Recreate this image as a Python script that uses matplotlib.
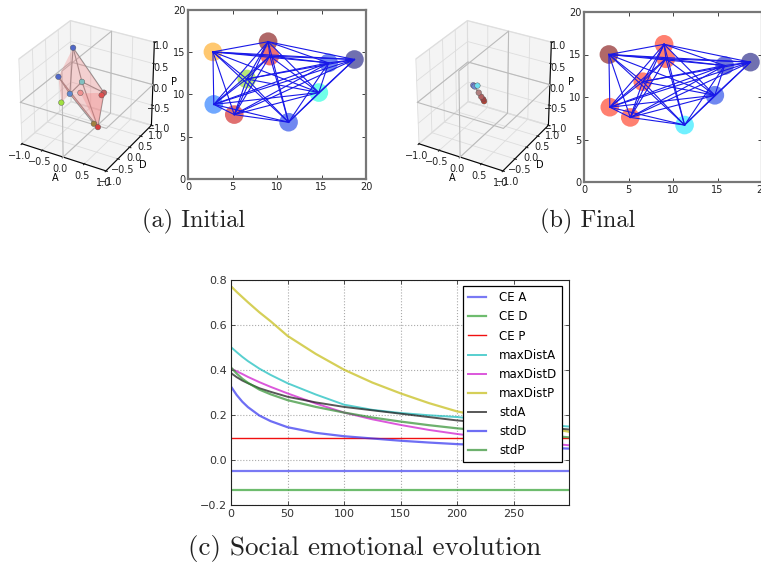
import matplotlib
matplotlib.use("Agg")
import matplotlib.pyplot as plt
from mpl_toolkits.mplot3d.art3d import Poly3DCollection

W, H = 761, 566

# network nodes
node_x = [2.8, 9.0, 9.2, 18.7, 15.8, 6.6, 14.7, 2.9, 5.2, 11.3]
node_y = [15.0, 16.2, 14.5, 14.1, 13.7, 11.8, 10.2, 8.8, 7.6, 6.7]
colors_a = ['#ffc870', '#b06868', '#f07070', '#7070b0', '#7088f0', '#b8e878', '#70ffe8', '#70a8ff', '#e07070', '#7088f0']
colors_b = ['#b06868', '#ff8070', '#ff8070', '#7070b0', '#7078d8', '#ff8070', '#7088f0', '#ff8070', '#ff8070', '#70f0ff']

# emotional states, initial
A_a = [-0.52, -0.89, -0.64, -0.55, -0.31, 0.22, 0.22, 0.36, 0.15, -0.29]
D_a = [0.3, 0.3, 0.0, 0.2, 0.3, 0.3, 0.2, -0.2, 0.0, 0.2]
P_a = [0.79, 0.0, -0.41, -0.27, 0.04, -0.07, -0.08, -0.6, -0.69, -0.17]
c3_a = ['#5068c8', '#5068c8', '#a0e040', '#6088d0', '#80c0c0', '#c06060', '#e05050', '#d84040', '#a08040', '#f09090']
faces_a = [(0, 1, 3), (0, 3, 9), (0, 5, 9), (1, 3, 7), (3, 7, 5), (5, 7, 9), (1, 2, 3)]
edges_a = [(0, 4), (4, 5), (5, 7), (1, 7), (0, 3), (3, 4), (3, 8), (1, 3), (4, 7), (0, 5)]

# emotional states, final
A_b = [-0.33, -0.23, -0.30, -0.20, -0.14, -0.07, -0.09]
D_b = [0.1, 0.1, 0.1, 0.1, 0.1, 0.1, 0.1]
P_b = [0.05, 0.07, 0.03, -0.09, -0.17, -0.26, -0.22]
c3_b = ['#7078d0', '#70e0f0', '#7088d0', '#b08080', '#b06060', '#c04030', '#a04040']

# evolution curves
t = [0, 5, 10, 15, 25, 35, 50, 75, 100, 125, 150, 175, 200, 225, 250, 275, 299]
ce_a = [-0.05] * len(t)
ce_d = [-0.135] * len(t)
ce_p = [0.095] * len(t)
max_a = [0.50, 0.478, 0.457, 0.438, 0.405, 0.377, 0.34, 0.29, 0.245, 0.222, 0.208, 0.198, 0.19, 0.178, 0.167, 0.157, 0.148]
max_d = [0.405, 0.393, 0.381, 0.368, 0.345, 0.324, 0.295, 0.25, 0.21, 0.18, 0.155, 0.133, 0.115, 0.10, 0.087, 0.075, 0.065]
max_p = [0.77, 0.745, 0.722, 0.699, 0.655, 0.615, 0.55, 0.47, 0.40, 0.343, 0.295, 0.252, 0.215, 0.19, 0.165, 0.145, 0.125]
std_a = [0.385, 0.367, 0.352, 0.34, 0.318, 0.302, 0.28, 0.255, 0.235, 0.22, 0.205, 0.19, 0.175, 0.165, 0.155, 0.145, 0.135]
std_d = [0.325, 0.288, 0.258, 0.234, 0.197, 0.172, 0.145, 0.12, 0.105, 0.095, 0.085, 0.077, 0.07, 0.065, 0.06, 0.055, 0.05]
std_p = [0.41, 0.383, 0.36, 0.342, 0.312, 0.291, 0.265, 0.235, 0.21, 0.188, 0.17, 0.154, 0.14, 0.129, 0.119, 0.11, 0.10]

fig = plt.figure(figsize=(W / 100, H / 100), dpi=100)


def rect(x0, y0, x1, y1):
    return [x0 / W, 1 - y1 / H, (x1 - x0) / W, (y1 - y0) / H]


def network(r, colors):
    ax = fig.add_axes(r)
    for i in range(len(node_x)):
        for j in range(i + 1, len(node_x)):
            ax.plot([node_x[i], node_x[j]], [node_y[i], node_y[j]], color='#1818e8', lw=0.8, zorder=3)
    ax.scatter(node_x, node_y, s=180, c=colors, linewidths=0, zorder=2)
    ax.set_xlim(0, 20)
    ax.set_ylim(0, 20)
    ax.set_xticks([0, 5, 10, 15, 20])
    ax.set_yticks([0, 5, 10, 15, 20])
    ax.tick_params(direction='in', top=True, right=True, labelsize=7, length=3, width=0.6, pad=2, colors='#222222')
    for s in ax.spines.values():
        s.set_linewidth(1.6)
        s.set_color('#777777')
    return ax


def cube(r, A, D, P, cols, faces=None, edges=None):
    ax = fig.add_axes(r, projection='3d')
    ax.patch.set_alpha(0)
    ax.view_init(elev=30, azim=-60)
    ax.set_box_aspect((1, 1, 1), zoom=0.84)
    ax.set_xlim(-1, 1)
    ax.set_ylim(-1, 1)
    ax.set_zlim(-1, 1)
    tk = [-1, -0.5, 0, 0.5, 1]
    ax.set_xticks(tk)
    ax.set_yticks(tk)
    ax.set_zticks(tk)
    ax.tick_params(labelsize=7, pad=-4, colors='#222222')
    ax.set_xlabel('A', fontsize=7, labelpad=-9)
    ax.set_ylabel('D', fontsize=7, labelpad=-9)
    ax.set_zlabel('P', fontsize=7, labelpad=-9)
    for a in (ax.xaxis, ax.yaxis, ax.zaxis):
        a._axinfo['grid']['color'] = '#dddddd'
        a._axinfo['grid']['linewidth'] = 0.6
        a.set_pane_color((0.94, 0.94, 0.94, 0.7))
        a.pane.set_edgecolor('#dddddd')
    g = '#bbbbbb'
    ax.plot([-1, 1, 1, -1, -1], [-1, -1, 1, 1, -1], [0, 0, 0, 0, 0], color=g, lw=0.8)
    ax.plot([0, 0, 0, 0, 0], [-1, 1, 1, -1, -1], [-1, -1, 1, 1, -1], color=g, lw=0.8)
    if faces:
        polys = [[(A[i], D[i], P[i]) for i in f] for f in faces]
        ax.add_collection3d(Poly3DCollection(polys, facecolor=(0.95, 0.45, 0.45, 0.28), edgecolor='none'))
    if edges:
        for i, j in edges:
            ax.plot([A[i], A[j]], [D[i], D[j]], [P[i], P[j]], color='#909090', lw=0.8)
    else:
        ax.plot(A, D, P, color='#909090', lw=1.2)
    ax.scatter(A, D, P, s=16, c=cols, depthshade=False, edgecolors='#555555', linewidths=0.3)
    return ax


cube(rect(-12, -1, 182, 193), A_a, D_a, P_a, c3_a, faces_a, edges_a)
network(rect(188, 9.5, 366, 179), colors_a)
cube(rect(385, -1, 579, 193), A_b, D_b, P_b, c3_b)
network(rect(584, 12, 762, 182), colors_b)

ax = fig.add_axes(rect(231, 279.5, 569, 505))
ax.plot(t, ce_a, color='#4040f0', lw=1.6, alpha=0.7, label='CE A')
ax.plot(t, ce_d, color='#30a030', lw=1.6, alpha=0.7, label='CE D')
ax.plot(t, ce_p, color='#f01010', lw=1.0, label='CE P')
ax.plot(t, max_a, color='#20c0c0', lw=1.4, alpha=0.75, label='maxDistA')
ax.plot(t, max_d, color='#d020d0', lw=1.4, alpha=0.75, label='maxDistD')
ax.plot(t, max_p, color='#c8c020', lw=1.6, alpha=0.75, label='maxDistP')
ax.plot(t, std_a, color='#202020', lw=1.4, alpha=0.75, label='stdA')
ax.plot(t, std_d, color='#3030f0', lw=1.6, alpha=0.7, label='stdD')
ax.plot(t, std_p, color='#309030', lw=1.6, alpha=0.7, label='stdP')
ax.set_xlim(0, 299)
ax.set_ylim(-0.2, 0.8)
ax.set_xticks([0, 50, 100, 150, 200, 250])
ax.set_yticks([-0.2, 0, 0.2, 0.4, 0.6, 0.8])
ax.set_yticklabels(['\u22120.2', '0.0', '0.2', '0.4', '0.6', '0.8'])
ax.grid(True, color='#aaaaaa', ls=':', lw=0.8)
ax.tick_params(direction='in', top=True, right=True, labelsize=8, length=3, width=0.6, pad=3, colors='#333333')
for s in ax.spines.values():
    s.set_linewidth(0.8)
    s.set_color('#222222')
leg = ax.legend(loc='upper left', bbox_to_anchor=(0.686, 0.97), borderaxespad=0, fontsize=8.5,
                labelspacing=0.52, handlelength=1.5, handletextpad=1.15, borderpad=0.42, fancybox=False, framealpha=1)
leg.get_frame().set_edgecolor('black')
leg.get_frame().set_linewidth(0.9)

for txt, x, y, fs in [('(a) Initial', 194, 221, 17.5), ('(b) Final', 588, 221, 17.5), ('(c) Social emotional evolution', 365, 549, 19.5)]:
    fig.text(x / W, 1 - y / H, txt, family='cmr10', fontsize=fs, ha='center', va='center', color='#222222')

fig.savefig('out.png', dpi=100)
